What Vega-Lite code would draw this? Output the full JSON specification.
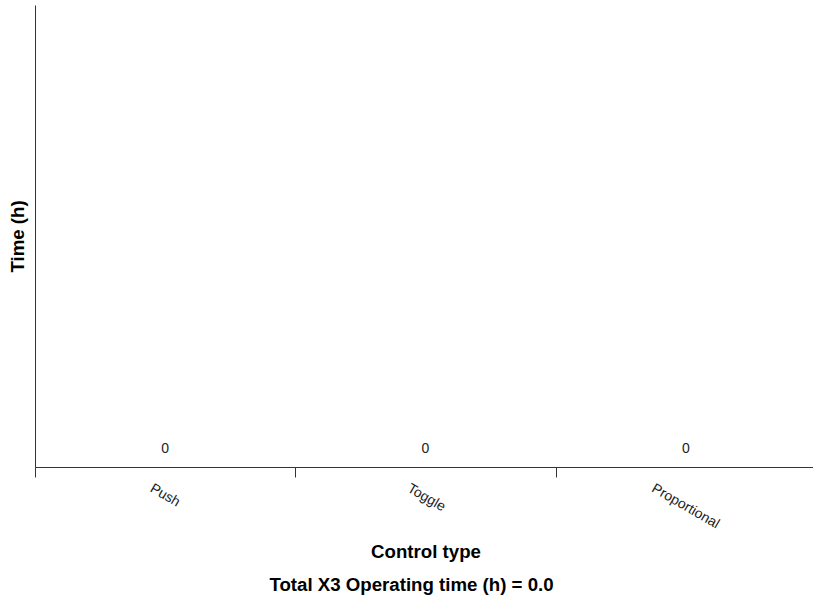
{
  "$schema": "https://vega.github.io/schema/vega-lite/v6.json",
  "width": 781,
  "height": 462,
  "autosize": {"type": "none"},
  "padding": {"left": 35, "top": 5, "right": 0, "bottom": 131},
  "background": "white",
  "config": {
    "view": {"stroke": null},
    "font": "Liberation Sans"
  },
  "title": {
    "text": "Total X3 Operating time (h) = 0.0",
    "orient": "bottom",
    "anchor": "middle",
    "frame": "group",
    "dx": -14,
    "fontSize": 18.67,
    "fontWeight": "bold",
    "color": "#000",
    "baseline": "top",
    "offset": 15
  },
  "data": {
    "values": [
      {"control": "Push", "time": 0},
      {"control": "Toggle", "time": 0},
      {"control": "Proportional", "time": 0}
    ]
  },
  "encoding": {
    "x": {
      "field": "control",
      "type": "nominal",
      "sort": null,
      "scale": {"paddingInner": 0, "paddingOuter": 0},
      "axis": {
        "title": "Control type",
        "titleFontSize": 18.67,
        "titleFontWeight": "bold",
        "titleColor": "#000",
        "titleBaseline": "top",
        "titleY": 75,
        "labelAngle": 30,
        "labelAlign": "left",
        "labelBaseline": "top",
        "labelFontSize": 14,
        "labelColor": "#222",
        "labelPadding": 4,
        "tickSize": 10,
        "tickBand": "extent",
        "tickColor": "#333",
        "domainColor": "#333",
        "labelOffset": {
          "condition": [
            {"test": "datum.value === 'Push'", "value": -11},
            {"test": "datum.value === 'Toggle'", "value": -14}
          ],
          "value": -30
        }
      }
    },
    "y": {
      "field": "time",
      "type": "quantitative",
      "scale": {"domain": [0, 1]},
      "axis": {
        "title": "Time (h)",
        "titleFontSize": 18.67,
        "titleFontWeight": "bold",
        "titleColor": "#000",
        "titlePadding": 8,
        "labels": false,
        "ticks": false,
        "grid": false,
        "domainColor": "#333"
      }
    }
  },
  "layer": [
    {"mark": {"type": "bar", "color": "#4c78a8", "width": {"band": 0.8}}},
    {
      "mark": {"type": "text", "dy": -14, "baseline": "alphabetic", "fontSize": 14, "color": "#222"},
      "encoding": {"text": {"field": "time", "type": "quantitative"}}
    }
  ]
}
